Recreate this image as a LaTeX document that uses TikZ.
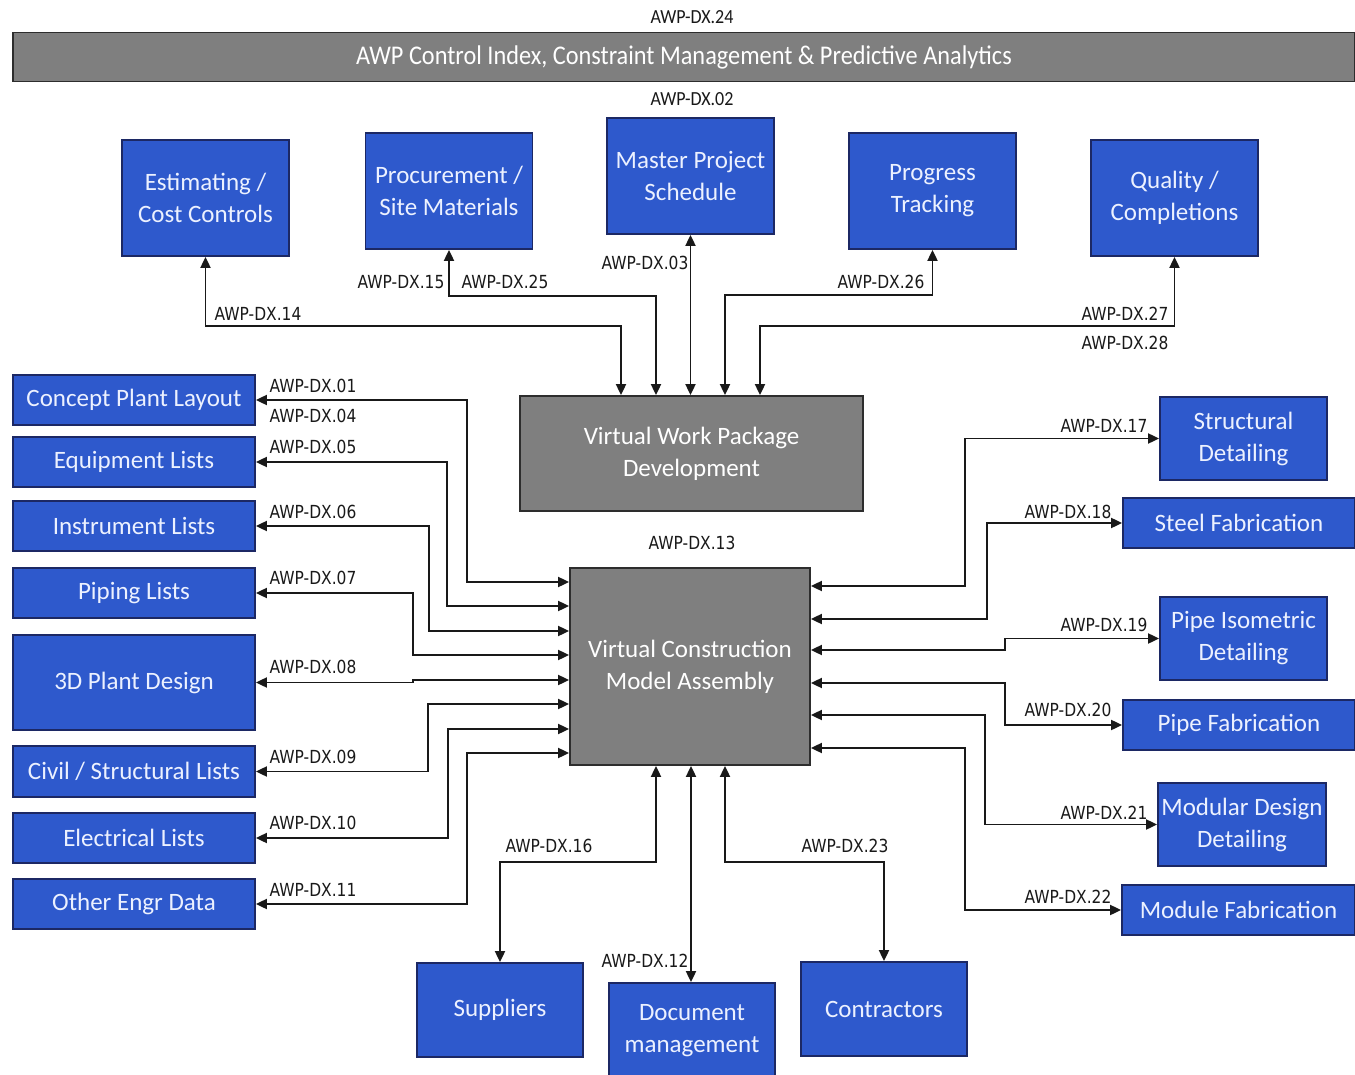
\documentclass[tikz,border=0pt]{standalone}
\usepackage{fontspec}
\setmainfont{Carlito}
\newfontfamily\boxfont{Carlito}
\newfontfamily\hdrfont[FakeStretch=0.9]{Carlito}
\newfontfamily\lblfont[FakeStretch=0.86]{DejaVu Sans}
\usetikzlibrary{arrows.meta,calc}
\definecolor{bfill}{RGB}{46,89,204}
\definecolor{bdraw}{RGB}{28,40,100}
\definecolor{gfill}{RGB}{127,127,127}
\definecolor{gdraw}{RGB}{45,45,45}
\definecolor{btext}{RGB}{236,241,255}
\definecolor{lnk}{RGB}{25,25,25}
\tikzset{
  bbox/.style={draw=bdraw, line width=1.8pt, fill=bfill, text=btext, align=center, inner sep=0pt,
    font=\boxfont\fontsize{25}{32}\selectfont},
  gbox/.style={draw=gdraw, line width=1.8pt, fill=gfill, text=white, align=center, inner sep=0pt,
    font=\boxfont\fontsize{25}{32}\selectfont},
  lbl/.style={font=\lblfont\fontsize{18}{20}\selectfont, text=black!90, inner sep=0pt},
  hlbl/.style={font=\hdrfont\fontsize{20}{22}\selectfont, text=black!90, inner sep=0pt},
  conn/.style={draw=lnk, line width=1.9pt, {Triangle[length=11pt,width=10pt]}-{Triangle[length=11pt,width=10pt]}},
}
\begin{document}
\begin{tikzpicture}[x=1pt,y=-1pt]
\useasboundingbox[fill=white] (0,0) rectangle (1355,1075);

% header
\node[gbox, minimum width=1342, minimum height=49, font=\hdrfont\fontsize{27}{30}\selectfont] (hdr) at (684,57)
  {AWP Control Index, Constraint Management \& Predictive Analytics};
\node[hlbl] (l24) at (692,17) {AWP-DX.24};
\node[hlbl] (l02) at (692,99) {AWP-DX.02};

% top boxes
\node[bbox, minimum width=167, minimum height=116] (est) at (205.5,198) {Estimating /\\Cost Controls};
\node[bbox, minimum width=167, minimum height=116] (proc) at (449,191) {Procurement /\\Site Materials};
\node[bbox, minimum width=167, minimum height=116] (mps) at (690.5,176) {Master Project\\Schedule};
\node[bbox, minimum width=167, minimum height=116] (prog) at (932.5,191) {Progress\\Tracking};
\node[bbox, minimum width=167, minimum height=116] (qual) at (1174.5,198) {Quality /\\Completions};

% central boxes
\node[gbox, minimum width=343, minimum height=115] (vwpd) at (691.5,453.5) {Virtual Work Package\\Development};
\node[gbox, minimum width=240, minimum height=197] (vcma) at (690,666.5) {Virtual Construction\\Model Assembly};

% left boxes
\node[bbox, minimum width=242, minimum height=50] (cpl) at (134,400) {Concept Plant Layout};
\node[bbox, minimum width=242, minimum height=50] (eq) at (134,462) {Equipment Lists};
\node[bbox, minimum width=242, minimum height=50] (ins) at (134,526) {Instrument Lists};
\node[bbox, minimum width=242, minimum height=50] (pip) at (134,593) {Piping Lists};
\node[bbox, minimum width=242, minimum height=95] (pd3) at (134,682.5) {3D Plant Design};
\node[bbox, minimum width=242, minimum height=51] (civ) at (134,771.5) {Civil / Structural Lists};
\node[bbox, minimum width=242, minimum height=50] (ele) at (134,838) {Electrical Lists};
\node[bbox, minimum width=242, minimum height=50] (oth) at (134,904) {Other Engr Data};

% right boxes
\node[bbox, minimum width=167, minimum height=83] (sd) at (1243.5,438.5) {Structural\\Detailing};
\node[bbox, minimum width=232, minimum height=50] (sf) at (1239,523) {Steel Fabrication};
\node[bbox, minimum width=167, minimum height=83] (pid) at (1243.5,638.5) {Pipe Isometric\\Detailing};
\node[bbox, minimum width=232, minimum height=50] (pf) at (1239,725) {Pipe Fabrication};
\node[bbox, minimum width=168, minimum height=83] (mdd) at (1242,824.5) {Modular Design\\Detailing};
\node[bbox, minimum width=233, minimum height=50] (mf) at (1238.5,910) {Module Fabrication};

% bottom boxes
\node[bbox, minimum width=166, minimum height=94] (sup) at (500,1010) {Suppliers};
\node[bbox, minimum width=166, minimum height=110] (doc) at (692,1038) {};
\node[font=\boxfont\fontsize{25}{32}\selectfont, text=btext, align=center, inner sep=0pt] (doct) at (692,1031) {Document\\management};
\node[bbox, minimum width=166, minimum height=94] (con) at (884,1009) {Contractors};

% top connectors
\draw[conn] (est.south) |- (621,326) -- (vwpd.north -| 621,0);
\draw[conn] (proc.south) |- (656,296) -- (vwpd.north -| 656,0);
\draw[conn] (mps.south) -- (vwpd.north -| mps.south);
\draw[conn] (prog.south) |- (725,295) -- (vwpd.north -| 725,0);
\draw[conn] (qual.south) |- (760,326) -- (vwpd.north -| 760,0);

% left connectors
\draw[conn] (cpl.east) -| (467,582) -- (vcma.west |- 0,582);
\draw[conn] (eq.east) -| (447,606) -- (vcma.west |- 0,606);
\draw[conn] (ins.east) -| (429,631) -- (vcma.west |- 0,631);
\draw[conn] (pip.east) -| (413,655) -- (vcma.west |- 0,655);
\draw[conn] (pd3.east) -- (413,682.5) -- (413,680) -- (vcma.west |- 0,680);
\draw[conn] (civ.east) -| (428,704) -- (vcma.west |- 0,704);
\draw[conn] (ele.east) -| (448,729) -- (vcma.west |- 0,729);
\draw[conn] (oth.east) -| (467,753) -- (vcma.west |- 0,753);

% right connectors
\draw[conn] (vcma.east |- 0,586) -| (965,438.5) -- (sd.west);
\draw[conn] (vcma.east |- 0,619) -| (987,523) -- (sf.west);
\draw[conn] (vcma.east |- 0,650) -| (1005,638.5) -- (pid.west);
\draw[conn] (vcma.east |- 0,683) -| (1005,725) -- (pf.west);
\draw[conn] (vcma.east |- 0,715) -| (985,824.5) -- (mdd.west);
\draw[conn] (vcma.east |- 0,748) -| (965,910) -- (mf.west);

% bottom connectors
\draw[conn] (sup.north) |- (656,862) -- (vcma.south -| 656,0);
\draw[conn] (vcma.south -| 691,0) -- (doc.north -| 691,0);
\draw[conn] (con.north) |- (725,862) -- (vcma.south -| 725,0);

% labels
\node[lbl] (l14) at (258,314) {AWP-DX.14};
\node[lbl] (l15) at (401,282) {AWP-DX.15};
\node[lbl] (l25) at (505,282) {AWP-DX.25};
\node[lbl] (l03) at (645,263) {AWP-DX.03};
\node[lbl] (l26) at (881,282) {AWP-DX.26};
\node[lbl] (l27) at (1125,314) {AWP-DX.27};
\node[lbl] (l28) at (1125,343) {AWP-DX.28};

\node[lbl] (l01) at (313,386) {AWP-DX.01};
\node[lbl] (l04) at (313,416) {AWP-DX.04};
\node[lbl] (l05) at (313,447) {AWP-DX.05};
\node[lbl] (l06) at (313,512) {AWP-DX.06};
\node[lbl] (l07) at (313,578) {AWP-DX.07};
\node[lbl] (l08) at (313,667) {AWP-DX.08};
\node[lbl] (l09) at (313,757) {AWP-DX.09};
\node[lbl] (l10) at (313,823) {AWP-DX.10};
\node[lbl] (l11) at (313,890) {AWP-DX.11};

\node[lbl] (l13) at (692,543) {AWP-DX.13};

\node[lbl] (l17) at (1104,426) {AWP-DX.17};
\node[lbl] (l18) at (1068,512) {AWP-DX.18};
\node[lbl] (l19) at (1104,625) {AWP-DX.19};
\node[lbl] (l20) at (1068,710) {AWP-DX.20};
\node[lbl] (l21) at (1104,813) {AWP-DX.21};
\node[lbl] (l22) at (1068,897) {AWP-DX.22};

\node[lbl] (l16) at (549,846) {AWP-DX.16};
\node[lbl] (l12) at (645,961) {AWP-DX.12};
\node[lbl] (l23) at (845,846) {AWP-DX.23};
\end{tikzpicture}
\end{document}
